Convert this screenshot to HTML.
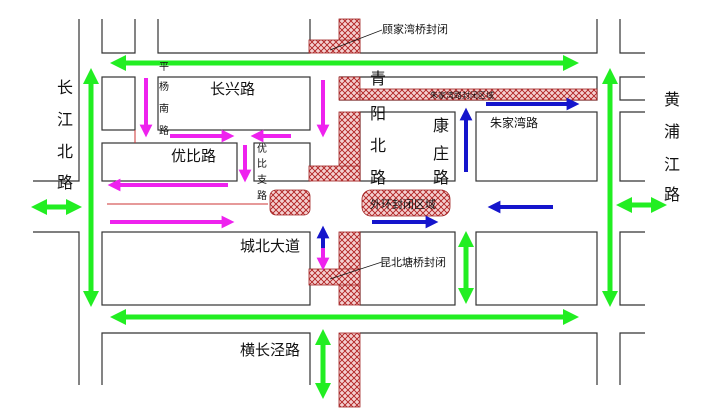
<!DOCTYPE html>
<html><head><meta charset="utf-8"><style>
html,body{margin:0;padding:0;background:#fff}
svg{display:block}
text{font-family:"Liberation Sans","Noto Sans CJK SC",sans-serif;fill:#111}
</style></head><body>
<svg width="714" height="412" viewBox="0 0 714 412" xmlns="http://www.w3.org/2000/svg">
<defs>
<pattern id="h" width="6" height="6" patternUnits="userSpaceOnUse">
<rect width="6" height="6" fill="#f4d0d0"/>
<path d="M0 0L6 6M6 0L0 6" stroke="#b02020" stroke-width="0.9"/>
</pattern>
<marker id="g" viewBox="0 0 10 10" refX="5" refY="5" markerWidth="3.2" markerHeight="3.2" orient="auto-start-reverse"><path d="M0 0L10 5L0 10z" fill="#22ee22"/></marker>
<marker id="m" viewBox="0 0 10 10" refX="5" refY="5" markerWidth="3.2" markerHeight="3.2" orient="auto-start-reverse"><path d="M0 0L10 5L0 10z" fill="#ee22ee"/></marker>
<marker id="b" viewBox="0 0 10 10" refX="5" refY="5" markerWidth="3.2" markerHeight="3.2" orient="auto-start-reverse"><path d="M0 0L10 5L0 10z" fill="#1515cc"/></marker>
</defs>
<g fill="none" stroke="#333" stroke-width="1.2">
<path d="M79 19V181H33M33 232H79V385"/>
<path d="M102 19V53H135V19M158 19V53H310V19"/>
<path d="M360 53H597V19M620 19V53H645"/>
<rect x="102" y="77" width="33" height="53"/>
<rect x="158" y="77" width="152" height="53"/>
<path d="M339 77H597V100H339M645 77H620V100H645"/>
<rect x="102" y="143" width="135" height="38"/>
<rect x="254" y="143" width="56" height="38"/>
<rect x="360" y="112" width="95" height="69"/>
<rect x="476" y="112" width="121" height="69"/>
<path d="M645 112H620V181H645"/>
<rect x="102" y="232" width="208" height="73"/>
<rect x="360" y="232" width="95" height="73"/>
<rect x="476" y="232" width="121" height="73"/>
<path d="M645 232H620V305H645"/>
<path d="M102 385V333H310V385M360 333H597V385M645 333H620V385"/>
</g>
<g stroke="#cc3333" stroke-width="1"><path d="M135 130V143M107 204H268"/></g>
<g fill="url(#h)" stroke="#a02020" stroke-width="0.8">
<rect x="339" y="19" width="21" height="34"/><rect x="309" y="40" width="51" height="13"/>
<rect x="339" y="77" width="21" height="23"/><rect x="360" y="89" width="237" height="11"/>
<rect x="339" y="112" width="21" height="69"/><rect x="309" y="166" width="51" height="15"/>
<rect x="270" y="190" width="40" height="25" rx="6"/>
<rect x="362" y="190" width="88" height="26" rx="9"/>
<rect x="339" y="232" width="21" height="73"/><rect x="309" y="269" width="51" height="16"/>
<rect x="339" y="333" width="21" height="74"/>
</g>
<g stroke="#22ee22" stroke-width="5" fill="none">
<path d="M118 63H571" marker-start="url(#g)" marker-end="url(#g)"/>
<path d="M118 317H571" marker-start="url(#g)" marker-end="url(#g)"/>
<path d="M91 76V299" marker-start="url(#g)" marker-end="url(#g)"/>
<path d="M610 76V299" marker-start="url(#g)" marker-end="url(#g)"/>
<path d="M39 207H74" marker-start="url(#g)" marker-end="url(#g)"/>
<path d="M624 205H659" marker-start="url(#g)" marker-end="url(#g)"/>
<path d="M466 239V296" marker-start="url(#g)" marker-end="url(#g)"/>
<path d="M323 337V391" marker-start="url(#g)" marker-end="url(#g)"/>
</g>
<g stroke="#ee22ee" stroke-width="4" fill="none">
<path d="M146 78V131" marker-end="url(#m)"/>
<path d="M323 80V131" marker-end="url(#m)"/>
<path d="M170 136H228" marker-end="url(#m)"/>
<path d="M291 136H257" marker-end="url(#m)"/>
<path d="M245 145V176" marker-end="url(#m)"/>
<path d="M228 185H114" marker-end="url(#m)"/>
<path d="M110 222H228" marker-end="url(#m)"/>
<path d="M323 248V264" marker-end="url(#m)"/>
</g>
<g stroke="#1515cc" stroke-width="4" fill="none">
<path d="M323 248V232" marker-end="url(#b)"/>
<path d="M466 172V114" marker-end="url(#b)"/>
<path d="M486 104H573" marker-end="url(#b)"/>
<path d="M553 207H494" marker-end="url(#b)"/>
<path d="M372 222H432" marker-end="url(#b)"/>
</g>
<g stroke="#111" stroke-width="0.8"><path d="M330 50L382 30M330 279L382 262"/></g>
<g font-size="16" text-anchor="middle">
<text x="65" y="93">长</text><text x="65" y="125">江</text><text x="65" y="157">北</text><text x="65" y="188">路</text>
<text x="672" y="105">黄</text><text x="672" y="137">浦</text><text x="672" y="170">江</text><text x="672" y="200">路</text>
<text x="378" y="84">青</text><text x="378" y="119">阳</text><text x="378" y="151">北</text><text x="378" y="183">路</text>
<text x="441" y="131">康</text><text x="441" y="159">庄</text><text x="441" y="183">路</text>
</g>
<g font-size="15">
<text x="210" y="94">长兴路</text><text x="171" y="161">优比路</text>
<text x="240" y="251">城北大道</text><text x="240" y="355">横长泾路</text>
</g>
<g font-size="10" text-anchor="middle">
<text x="164" y="70">平</text><text x="164" y="90">杨</text><text x="164" y="112">南</text><text x="164" y="134">路</text>
<text x="262" y="152">优</text><text x="262" y="167">比</text><text x="262" y="183">支</text><text x="262" y="199">路</text>
</g>
<g font-size="11">
<text x="382" y="33">顾家湾桥封闭</text><text x="380" y="266">昆北塘桥封闭</text>
<text x="370" y="208">外环封闭区域</text>
<text x="490" y="127" font-size="12">朱家湾路</text>
<text x="430" y="98" font-size="8">朱家湾路封闭区域</text>
</g>
</svg>
</body></html>
